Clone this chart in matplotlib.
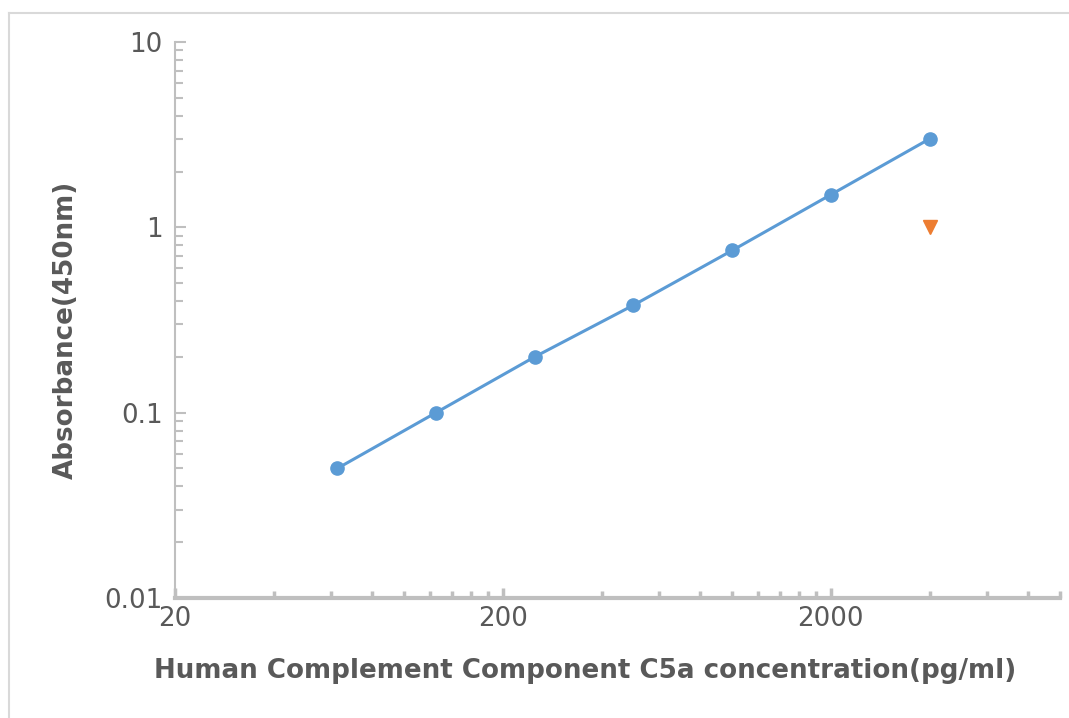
#!/usr/bin/env python3

import matplotlib
matplotlib.use("Agg")
import matplotlib.pyplot as plt
from matplotlib.ticker import FixedLocator, FixedFormatter, NullFormatter
from matplotlib.lines import Line2D

# -----------------------------
# Standard curve data
# -----------------------------
concentration = [62.5, 125, 250, 500, 1000, 2000, 4000]
absorbance = [0.05, 0.1, 0.2, 0.38, 0.75, 1.5, 3.0]

# single extra point (orange triangle)
extra_conc = [4000]
extra_abs = [1.0]

x_major = [20, 200, 2000]
x_major_labels = ["20", "200", "2000"]
y_major = [0.01, 0.1, 1, 10]
y_major_labels = ["0.01", "0.1", "1", "10"]

AXIS_GRAY = "#BFBFBF"
TEXT_GRAY = "#595959"
BLUE = "#5B9BD5"
ORANGE = "#ED7D31"
FS = 18.8

plt.rcParams["font.family"] = "DejaVu Sans"


def main():
    fig = plt.figure(figsize=(10.69, 7.18), dpi=100)
    ax = fig.add_axes([175 / 1069, 1 - 598 / 718, (1060 - 175) / 1069, (598 - 42) / 718])

    ax.plot(concentration, absorbance, color=BLUE, linewidth=2.2,
            marker="o", markersize=9.5, zorder=3, clip_on=False)
    ax.plot(extra_conc, extra_abs, linestyle="none", color=ORANGE,
            marker="v", markersize=9.5, zorder=3)

    ax.set_xscale("log")
    ax.set_yscale("log")
    ax.set_xlim(20, 10000)
    ax.set_ylim(0.01, 10)

    # minor ticks: multiples of each base step (2x..9x)
    x_minor = [m * b for b in (20, 200, 2000) for m in range(2, 10)]
    x_minor = [v for v in x_minor if v <= 10000]
    y_minor = [m * b for b in (0.01, 0.1, 1) for m in range(2, 10)]

    ax.xaxis.set_major_locator(FixedLocator(x_major))
    ax.xaxis.set_major_formatter(FixedFormatter(x_major_labels))
    ax.xaxis.set_minor_locator(FixedLocator(x_minor))
    ax.xaxis.set_minor_formatter(NullFormatter())
    ax.yaxis.set_major_locator(FixedLocator(y_major))
    ax.yaxis.set_major_formatter(FixedFormatter(y_major_labels))
    ax.yaxis.set_minor_locator(FixedLocator(y_minor))
    ax.yaxis.set_minor_formatter(NullFormatter())

    for side in ("top", "right"):
        ax.spines[side].set_visible(False)
    ax.spines["bottom"].set_color(AXIS_GRAY)
    ax.spines["bottom"].set_linewidth(3)
    ax.spines["left"].set_color(AXIS_GRAY)
    ax.spines["left"].set_linewidth(1.5)

    ax.tick_params(axis="x", which="major", direction="in", length=7, width=2.5,
                   color=AXIS_GRAY, labelcolor=TEXT_GRAY, labelsize=FS, pad=6)
    ax.tick_params(axis="x", which="minor", direction="in", length=5, width=2.5,
                   color=AXIS_GRAY)
    ax.tick_params(axis="y", which="major", direction="in", length=8, width=1.5,
                   color=AXIS_GRAY, labelcolor=TEXT_GRAY, labelsize=FS, pad=9)
    ax.tick_params(axis="y", which="minor", direction="in", length=6, width=1.5,
                   color=AXIS_GRAY)

    xl = ax.set_xlabel("Human Complement Component C5a concentration(pg/ml)",
                       fontsize=FS, fontweight="bold", color=TEXT_GRAY)
    yl = ax.set_ylabel("Absorbance(450nm)", fontsize=FS, fontweight="bold",
                       color=TEXT_GRAY)
    xl.set_verticalalignment("center")
    yl.set_verticalalignment("center")
    ax.xaxis.set_label_coords(0.463, -0.131)
    ax.yaxis.set_label_coords(-0.123, 0.482)

    # light frame on the left and top of the chart area
    frame_kw = dict(transform=fig.transFigure, color="#D9D9D9", linewidth=1.5)
    fig.add_artist(Line2D([9 / 1069, 9 / 1069], [0, 1 - 13 / 718], **frame_kw))
    fig.add_artist(Line2D([9 / 1069, 1], [1 - 13 / 718, 1 - 13 / 718], **frame_kw))

    fig.savefig("out.png", dpi=100)
    plt.close(fig)


if __name__ == "__main__":
    main()
